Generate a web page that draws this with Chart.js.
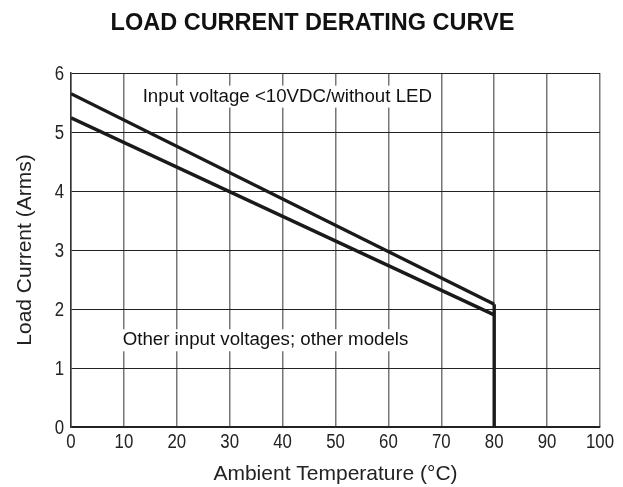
<!DOCTYPE html>
<html><head><meta charset="utf-8">
<script src="https://cdn.jsdelivr.net/npm/chart.js@4.4.0/dist/chart.umd.min.js"></script>
<style>html,body{margin:0;padding:0;background:#fff}#wrap{width:623px;height:487px}</style>
</head><body><div id="wrap"><canvas id="c" width="623" height="487"></canvas></div>
<script>
const xTicks = [0,10,20,30,40,50,60,70,80,90,100];
const yTicks = [0,1,2,3,4,5,6];
const upperX = [0, 80];
const upperY = [5.65, 2.08];
const lowerX = [0, 80];
const lowerY = [5.24, 1.90];
const cutoffX = [80, 80];
const cutoffY = [2.08, 0];
const labelUpper = "Input voltage <10VDC/without LED";
const labelLower = "Other input voltages; other models";
const titleText = "LOAD CURRENT DERATING CURVE";
const xTitle = "Ambient Temperature (\u00B0C)";
const yTitle = "Load Current (Arms)";

const pts = (xs, ys) => xs.map((x, i) => ({x, y: ys[i]}));
const FONT = "'Liberation Sans', Arial, sans-serif";
const SQUEEZE = 0.84;

const notes = {
  id: 'notes',
  beforeDatasetsDraw(chart) {
    const {ctx, scales:{x, y}} = chart;
    ctx.save();
    ctx.font = "18.7px " + FONT;
    ctx.textBaseline = 'middle';
    const items = [[labelUpper, 13.55, 5.6], [labelLower, 9.77, 1.47]];
    for (const [t, vx, vy] of items) {
      const px = x.getPixelForValue(vx), py = y.getPixelForValue(vy);
      const w = ctx.measureText(t).width;
      ctx.fillStyle = '#fff';
      ctx.fillRect(px - 3, py - 11, w + 6, 22);
      ctx.fillStyle = '#111';
      ctx.fillText(t, px, py);
    }
    ctx.restore();
  },
  afterDraw(chart) {
    const {ctx, scales:{x, y}} = chart;
    ctx.save();
    ctx.font = "bold 23.5px " + FONT;
    ctx.fillStyle = '#111';
    ctx.textAlign = 'center';
    ctx.textBaseline = 'alphabetic';
    ctx.fillText(titleText, 312.5, 30);
    ctx.restore();
    // condensed tick labels, positioned by the chart scales
    ctx.save();
    ctx.font = "20px " + FONT;
    ctx.fillStyle = '#222';
    ctx.textBaseline = 'middle';
    ctx.textAlign = 'center';
    const xy = x.top + 15;
    for (const v of xTicks) {
      const px = x.getPixelForValue(v);
      ctx.save(); ctx.translate(px, xy); ctx.scale(SQUEEZE, 1); ctx.fillText(String(v), 0, 0); ctx.restore();
    }
    ctx.textAlign = 'right';
    const rx = y.right - 7;
    for (const v of yTicks) {
      const py = y.getPixelForValue(v);
      ctx.save(); ctx.translate(rx, py + 1); ctx.scale(SQUEEZE, 1); ctx.fillText(String(v), 0, 0); ctx.restore();
    }
    ctx.restore();
  }
};

const lineDs = (data) => ({data, borderColor: '#1a1a1a', borderWidth: 3.4, pointRadius: 0, fill: false, tension: 0});

new Chart(document.getElementById('c'), {
  type: 'scatter',
  data: { datasets: [
    {...lineDs(pts(upperX, upperY)), showLine: true},
    {...lineDs(pts(lowerX, lowerY)), showLine: true},
    {...lineDs(pts(cutoffX, cutoffY)), showLine: true}
  ]},
  options: {
    responsive: false,
    animation: false,
    layout: { padding: { top: 73, right: 23, left: 0, bottom: 0 } },
    plugins: { legend: { display: false }, tooltip: { enabled: false }, title: { display: false } },
    scales: {
      x: {
        type: 'linear', min: 0, max: 100,
        afterBuildTicks: s => { s.ticks = xTicks.map(v => ({value: v})); },
        afterFit: s => { s.height = 60; },
        grid: { color: '#777', lineWidth: 1.5, drawTicks: false },
        border: { color: '#222', width: 1.5 },
        ticks: { display: false },
        title: { display: true, text: xTitle, color: '#222', font: { size: 21, family: FONT }, padding: { top: 0, bottom: 0 } }
      },
      y: {
        type: 'linear', min: 0, max: 6,
        afterBuildTicks: s => { s.ticks = yTicks.map(v => ({value: v})); },
        afterFit: s => { s.width = 71; },
        grid: { color: '#222', lineWidth: 1, drawTicks: false },
        border: { color: '#333', width: 1.5 },
        ticks: { display: false },
        title: { display: true, text: yTitle, color: '#222', font: { size: 21, family: FONT }, padding: { top: 13, bottom: 0 } }
      }
    }
  },
  plugins: [notes]
});
</script></body></html>
